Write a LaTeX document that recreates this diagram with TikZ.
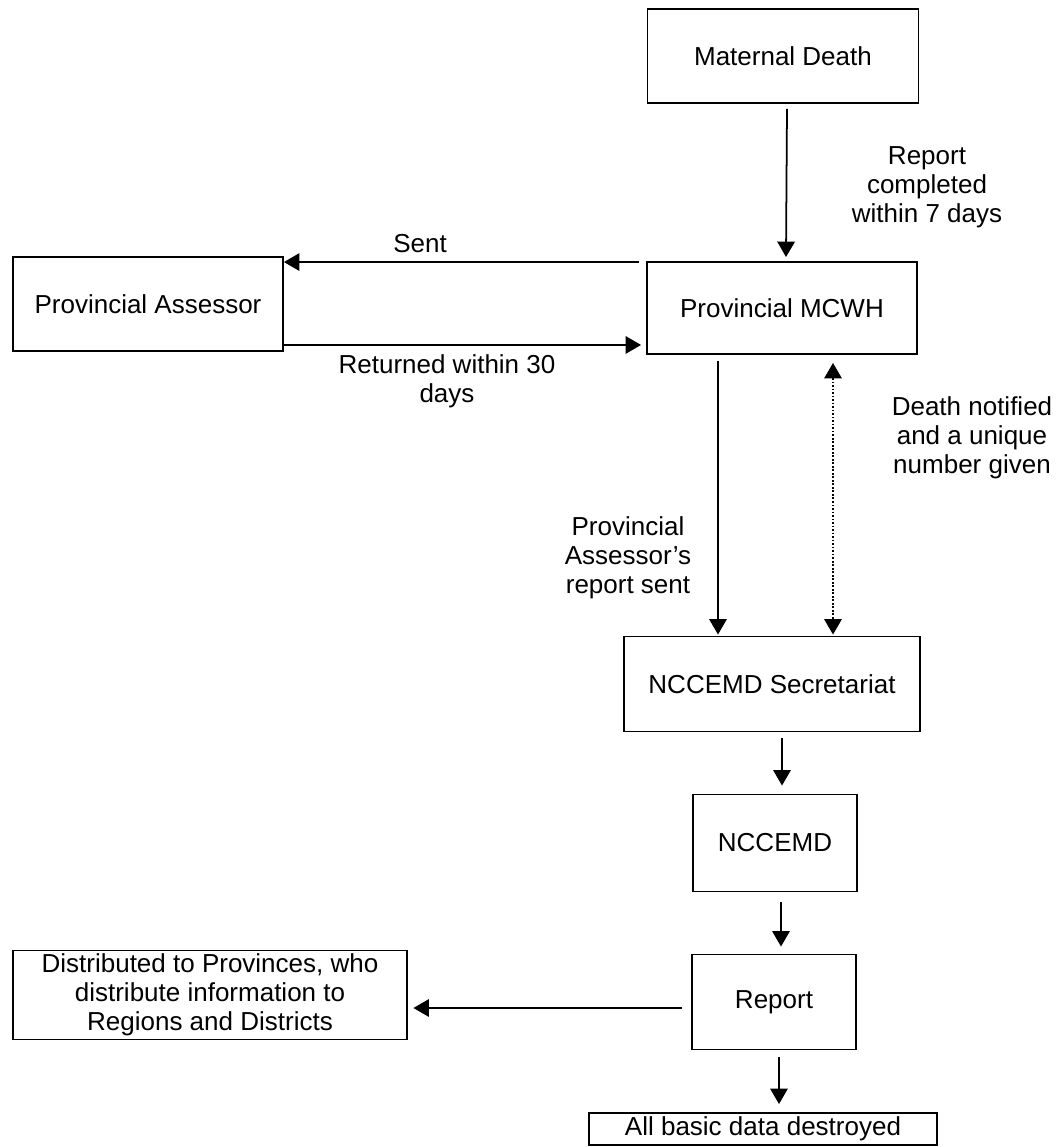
\documentclass[tikz,border=0pt]{standalone}
\usepackage{fontspec}
\setmainfont{Liberation Sans}
\usepackage{tikz}
\usetikzlibrary{shapes,arrows,arrows.meta,positioning,calc}

\begin{document}
\begin{tikzpicture}[x=0.02cm,y=-0.02cm,
	box/.style={draw,line width=1.1pt,inner sep=0pt,align=center,font=\fontsize{14.8}{16.5}\selectfont},
	lbl/.style={align=center,font=\fontsize{14.8}{16.5}\selectfont},
	arr/.style={line width=1pt,-{Triangle[length=3.1mm,width=3.5mm]}}]
	\useasboundingbox (0,0) rectangle (1057,1147);

	\node[box,minimum width=5.42cm,minimum height=1.88cm] (md) at (783,56) {Maternal Death};
	\node[box,minimum width=5.4cm,minimum height=1.88cm] (pa) at (148,304) {Provincial Assessor};
	\node[box,minimum width=5.4cm,minimum height=1.84cm] (mcwh) at (782,308) {Provincial MCWH};
	\node[box,minimum width=5.92cm,minimum height=1.9cm] (sec) at (772,684) {NCCEMD Secretariat};
	\node[box,minimum width=3.28cm,minimum height=1.94cm] (ncc) at (775,843) {NCCEMD};
	\node[box,minimum width=3.28cm,minimum height=1.9cm] (rep) at (774,1002) {Report};
	\node[box,minimum width=6.96cm,minimum height=0.64cm] (dest) at (763,1129) {All basic data destroyed};
	\node[box,minimum width=7.9cm,minimum height=1.78cm] (dist) at (210,995) {Distributed to Provinces, who\\distribute information to\\Regions and Districts};

	% labels
	\node[lbl] (l1) at (927,187) {Report\\completed\\within 7 days};
	\node[lbl] (l2) at (420,244) {Sent};
	\node[lbl] (l3) at (447,381) {Returned within 30\\days};
	\node[lbl] (l4) at (628,558) {Provincial\\Assessor's\\report sent};
	\node[lbl] (l5) at (972,438) {Death notified\\and a unique\\number given};

	% arrows
	\draw[arr] ($(md.south)+(4,5)$) -- ($(mcwh.north)+(4,-4)$);
	\draw[arr] ($(mcwh.north west)+(-7,1)$) -- ($(pa.north east)+(0,6)$);
	\draw[arr] ($(pa.south east)+(0,-7)$) -- ($(mcwh.south west)+(-5,-10)$);
	\draw[arr] ($(mcwh.south)+(-64,6)$) -- ($(sec.north)+(-54,-1)$);
	\draw[arr,{Triangle[length=3.1mm,width=3.5mm]}-{Triangle[length=3.1mm,width=3.5mm]},densely dotted] ($(mcwh.south)+(51,8)$) -- ($(sec.north)+(61,-1)$);
	\draw[arr] ($(sec.south)+(10,6)$) -- ($(ncc.north)+(7,-8)$);
	\draw[arr] ($(ncc.south)+(6,10)$) -- ($(rep.north)+(7,-7)$);
	\draw[arr] ($(rep.south)+(5,7)$) -- ($(dest.north)+(16,-8)$);
	\draw[arr] ($(rep.west)+(-9,6)$) -- ($(dist.east)+(5,13)$);
\end{tikzpicture}
\end{document}
